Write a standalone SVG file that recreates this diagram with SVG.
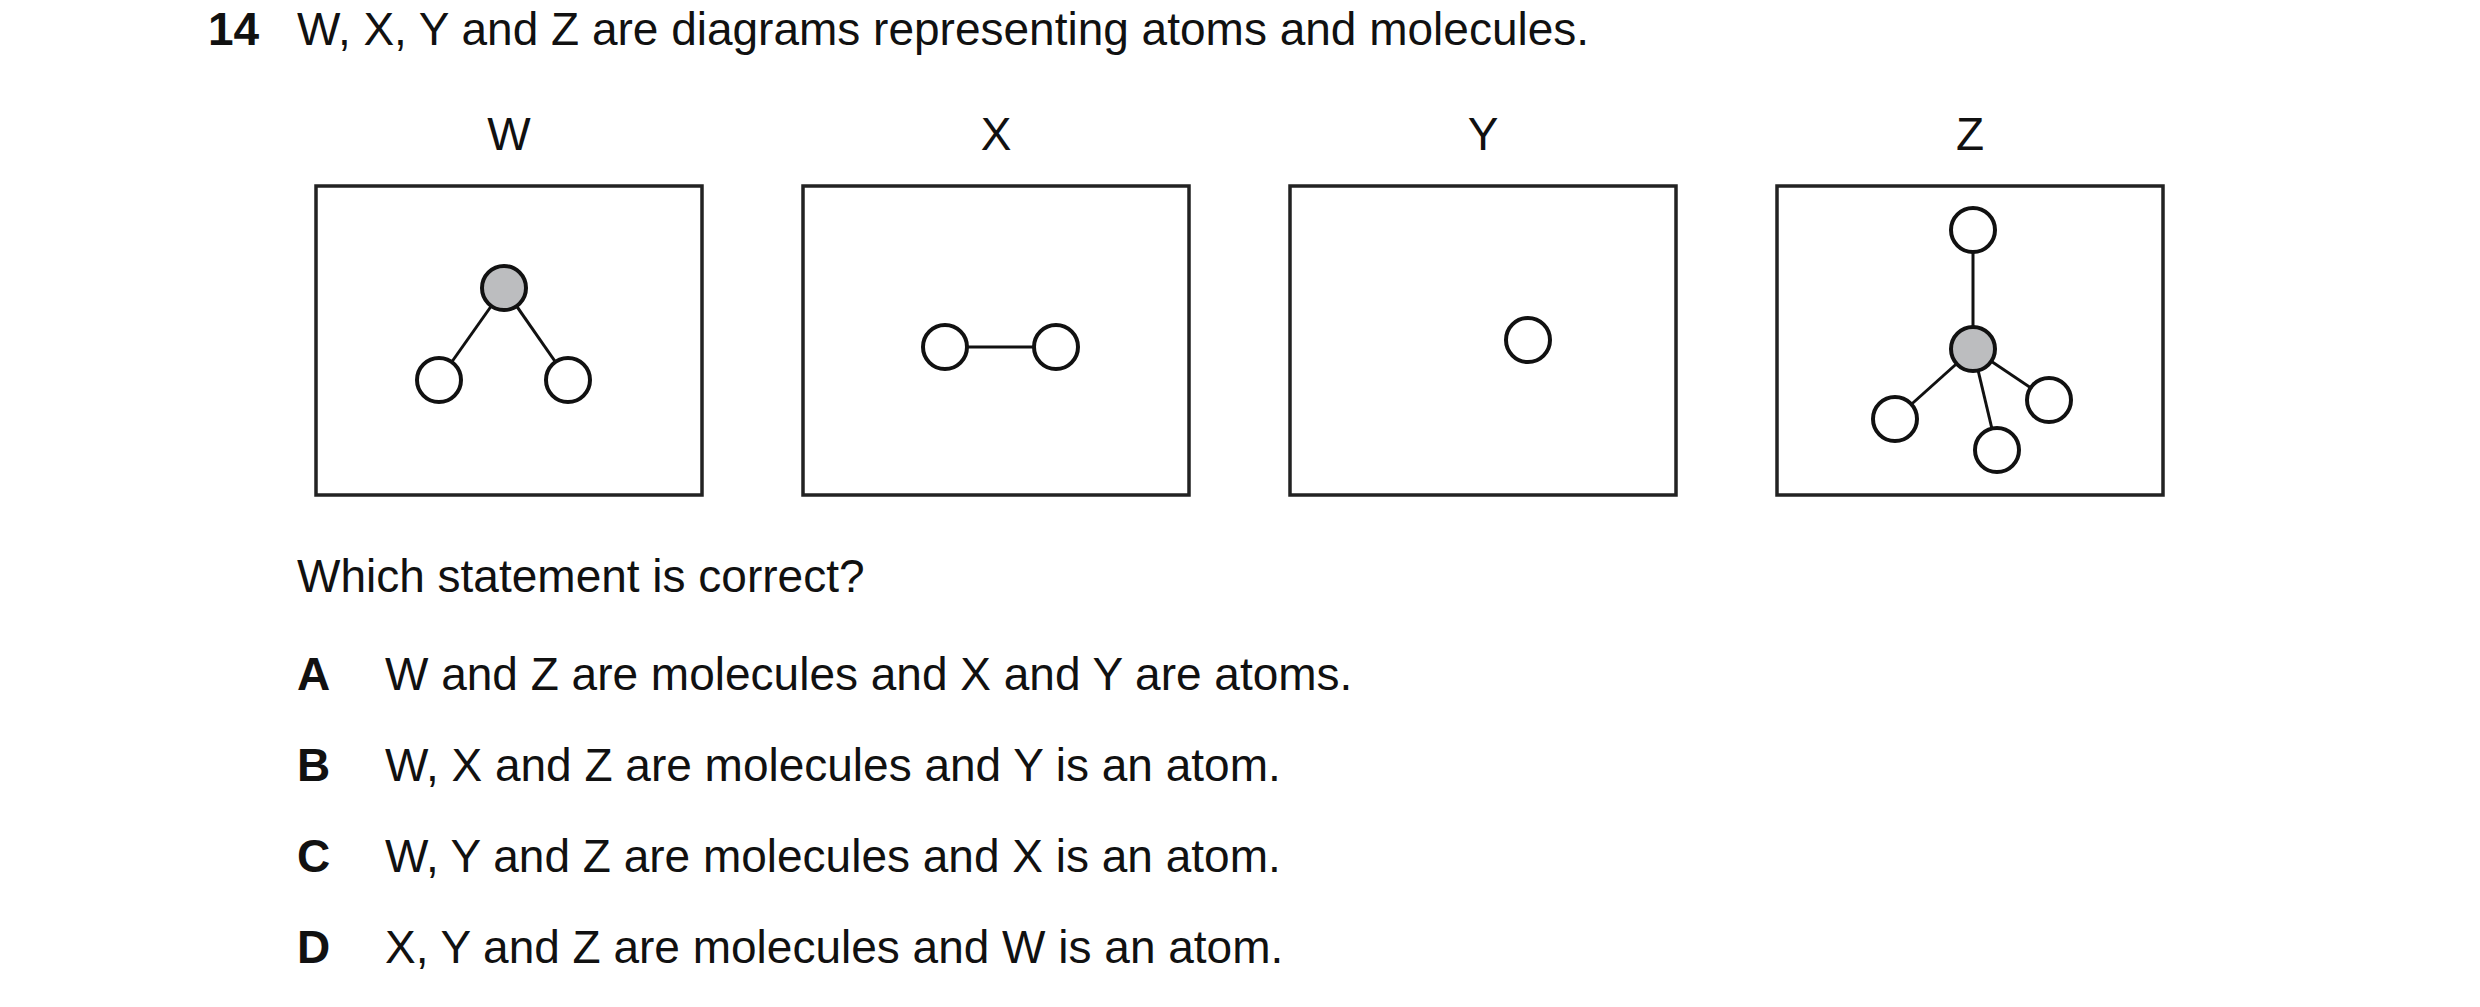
<svg xmlns="http://www.w3.org/2000/svg" width="2480" height="1007" viewBox="0 0 2480 1007">
<style>
text{font-family:"Liberation Sans",Arial,sans-serif;font-size:46px;fill:#111}
.b{font-weight:bold}
.box{fill:none;stroke:#222;stroke-width:3.5}
.a{fill:#fff;stroke:#111;stroke-width:4}
.g{fill:#bcbdbf;stroke:#111;stroke-width:4}
.bond{stroke:#111;stroke-width:3}
</style>
<rect width="2480" height="1007" fill="#fff"/>
<text class="b" x="208" y="45">14</text>
<text x="297" y="45">W, X, Y and Z are diagrams representing atoms and molecules.</text>
<g id="W">
<text x="509" y="150" text-anchor="middle">W</text>
<rect class="box" x="316" y="186" width="386" height="309"/>
<g class="bond"><line x1="504" y1="288" x2="439" y2="380"/><line x1="504" y1="288" x2="568" y2="380"/></g>
<circle class="g" cx="504" cy="288" r="22"/>
<circle class="a" cx="439" cy="380" r="22"/>
<circle class="a" cx="568" cy="380" r="22"/>
</g>
<g id="X">
<text x="996" y="150" text-anchor="middle">X</text>
<rect class="box" x="803" y="186" width="386" height="309"/>
<line class="bond" x1="945" y1="347" x2="1056" y2="347" stroke-width="4"/>
<circle class="a" cx="945" cy="347" r="22"/>
<circle class="a" cx="1056" cy="347" r="22"/>
</g>
<g id="Y">
<text x="1483" y="150" text-anchor="middle">Y</text>
<rect class="box" x="1290" y="186" width="386" height="309"/>
<circle class="a" cx="1528" cy="340" r="22"/>
</g>
<g id="Z">
<text x="1970" y="150" text-anchor="middle">Z</text>
<rect class="box" x="1777" y="186" width="386" height="309"/>
<g class="bond"><line x1="1973" y1="230" x2="1973" y2="349"/><line x1="1973" y1="349" x2="1895" y2="419"/><line x1="1973" y1="349" x2="1997" y2="450"/><line x1="1973" y1="349" x2="2049" y2="400"/></g>
<circle class="a" cx="1973" cy="230" r="22"/>
<circle class="g" cx="1973" cy="349" r="22"/>
<circle class="a" cx="1895" cy="419" r="22"/>
<circle class="a" cx="1997" cy="450" r="22"/>
<circle class="a" cx="2049" cy="400" r="22"/>
</g>
<text x="297" y="592">Which statement is correct?</text>
<text class="b" x="297" y="690">A</text><text x="385" y="690">W and Z are molecules and X and Y are atoms.</text>
<text class="b" x="297" y="781">B</text><text x="385" y="781">W, X and Z are molecules and Y is an atom.</text>
<text class="b" x="297" y="872">C</text><text x="385" y="872">W, Y and Z are molecules and X is an atom.</text>
<text class="b" x="297" y="963">D</text><text x="385" y="963">X, Y and Z are molecules and W is an atom.</text>
</svg>
